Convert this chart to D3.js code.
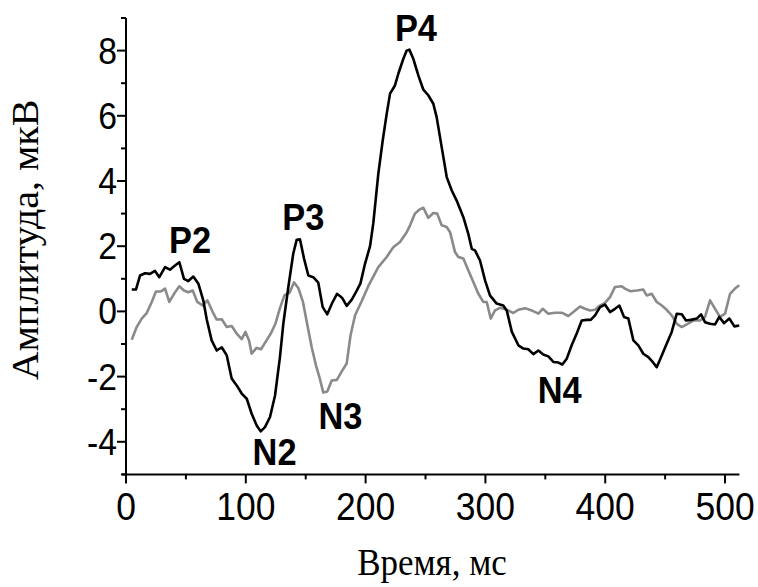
<!DOCTYPE html>
<html><head><meta charset="utf-8">
<script src="https://cdn.jsdelivr.net/npm/d3@7"></script>
<style>body{margin:0;background:#fff}svg{display:block}</style>
</head><body>
<div id="chart"></div>
<script>
const blackT = [4.8,8.3,11.7,15.9,20,24.2,27.8,32.6,36.7,40.9,44.5,48.4,52,56.2,60.4,64.5,67.4,71.5,75.7,79.9,84.1,88.2,92.4,96.6,100.8,104.9,109.1,112.4,116,120.2,124.4,128.5,131.3,135.5,139.6,142.5,145.2,148.6,152.2,156.3,160.5,164.2,168,172,176.1,180.3,184.2,188.6,192.6,195.7,199.5,203.7,206.4,210.6,214.3,217.6,220.4,224.5,227.3,231.5,234.3,236.5,239.8,244,248.2,252.3,256.5,259.3,263.5,267.7,271.9,276,281.6,285.7,288.6,291.3,295.5,299.7,303.8,309.4,314.9,317.8,322,327.5,331.7,335.8,340,344.2,348.3,352.5,356.7,360.9,364.2,367.9,372,376.2,380.4,384.6,387.9,391.5,395.7,399.8,404,408.2,411.8,415.7,419.3,423.5,427.6,431.8,436,439.6,443,447.2,451.3,455.5,459.7,463.9,467.4,471.4,476.4,480,483.3,487.5,491.7,495.2,499.2,503.6,507.8,511.9];
const blackV = [0.67,0.67,1.10,1.17,1.15,1.24,1.05,1.36,1.28,1.41,1.51,1.00,0.93,1.07,0.85,0.34,-0.25,-0.89,-1.2,-1.10,-1.35,-2.06,-2.27,-2.52,-2.68,-3.14,-3.50,-3.68,-3.55,-3.24,-2.58,-1.40,-0.38,0.75,1.77,2.20,2.21,1.62,1.10,1.05,0.88,0.13,-0.09,0.25,0.54,0.42,0.17,0.37,0.64,0.86,1.46,2.0,2.7,4.22,5.25,6.06,6.68,6.93,7.29,7.75,8.00,8.03,7.75,7.24,6.80,6.63,6.37,5.96,5.04,4.12,3.71,3.40,2.89,2.38,1.92,1.87,1.56,0.95,0.49,0.24,0.18,0.03,-0.62,-1.04,-1.14,-1.16,-1.31,-1.20,-1.32,-1.38,-1.55,-1.57,-1.63,-1.45,-1.04,-0.68,-0.28,-0.26,-0.26,-0.12,0.13,0.21,-0.02,0.08,0.18,-0.17,-0.22,-0.89,-1.04,-1.30,-1.40,-1.55,-1.71,-1.35,-0.99,-0.63,-0.07,-0.09,-0.28,-0.26,-0.22,-0.09,-0.33,-0.38,-0.40,-0.17,-0.36,-0.22,-0.46,-0.43];
const grayT = [4.8,8.9,13.1,17.3,21.5,25,29,32.6,36.1,40.1,44.5,48.4,52,55.7,59.5,64,67.9,72.4,75.7,79.9,84.1,88.2,92.4,96.6,99.7,102.7,104.9,108.9,112.7,117.3,121,124.8,128.5,132.3,136.5,140.2,143.8,147.7,151.7,155,158.6,161.6,164.7,168,171.7,176,180.1,184.2,187.4,191.2,196.7,202.3,210.6,217.6,223.1,228.7,234.3,237.1,241.2,244.8,248.2,252.3,256.5,259.8,263.5,267.7,270.5,274.6,277.4,281.6,285.7,289.9,294.1,298.2,301.1,304.4,308,312.2,317.8,323.3,327.5,333.1,338.6,344.2,347.8,352.5,358.1,363.7,369.2,373.4,379,383.1,387.3,391.5,395.7,399.8,404,408.2,413.8,416.5,420.7,426.3,431.8,434.6,438.8,443,447.2,451.3,455.5,459.7,463.9,468,473.5,479.1,483.3,487.5,491.7,495.8,500,504.2,508.3,511.9];
const grayV = [-0.87,-0.48,-0.22,-0.05,0.29,0.61,0.61,0.70,0.29,0.54,0.77,0.64,0.59,0.64,0.29,0.18,0.34,-0.02,-0.25,-0.24,-0.48,-0.45,-0.68,-0.85,-0.63,-0.89,-1.30,-1.12,-1.16,-0.89,-0.67,-0.37,0.10,0.50,0.57,0.89,0.72,0.29,-0.48,-1.10,-1.66,-2.04,-2.49,-2.46,-2.12,-2.10,-1.84,-1.60,-0.74,-0.12,0.31,0.78,1.36,1.67,1.97,2.13,2.43,2.64,3.00,3.12,3.18,2.87,3.02,3.00,2.64,2.59,2.43,1.82,1.67,1.62,1.26,0.90,0.54,0.29,0.29,-0.22,0.03,0.11,0.05,-0.05,0.05,0.10,0.03,-0.07,0.08,-0.07,-0.04,-0.04,-0.14,-0.02,0.15,0.08,0.03,0.05,0.18,0.26,0.44,0.75,0.77,0.70,0.62,0.64,0.67,0.49,0.54,0.29,0.18,0.05,-0.12,-0.38,-0.48,-0.40,-0.28,-0.28,-0.17,0.34,0.08,-0.17,-0.07,0.54,0.70,0.80];
const xTicks = [0,100,200,300,400,500];
const yTicks = [-4,-2,0,2,4,6,8];
const peakNames = ["P2","P3","P4","N2","N3","N4"];
const peakT = [53.5,148,242,124,179,362];
const peakV = [1.8,2.5,8.3,-4.7,-3.6,-2.8];
const xTitle = "Время, мс";
const yTitle = "Амплитуда, мкВ";

const W = 758, H = 587;
const svg = d3.select("#chart").append("svg").attr("width", W).attr("height", H);
const x = d3.scaleLinear().domain([0, 512]).range([126, 739.4]);
const y = d3.scaleLinear().domain([-5, 9]).range([474.4, 18]);

const tickFont = "'Liberation Sans', Arial, sans-serif";

// X axis
const gx = svg.append("g").attr("transform", `translate(0,${y(-5)})`);
gx.append("line").attr("x1", x(0) - 4).attr("x2", x(512)).attr("stroke", "#000").attr("stroke-width", 2);
gx.selectAll("line.minor").data(d3.range(0, 513, 50)).join("line")
  .attr("x1", d => x(d)).attr("x2", d => x(d)).attr("y1", 0)
  .attr("y2", d => d % 100 === 0 ? 9 : 5).attr("stroke", "#000").attr("stroke-width", 2);
gx.selectAll("text").data(xTicks).join("text")
  .attr("transform", d => `translate(${x(d)},46) scale(0.91,1)`)
  .attr("text-anchor", "middle").attr("font-family", tickFont).attr("font-size", 39)
  .text(d => d);

// Y axis
const gy = svg.append("g").attr("transform", `translate(${x(0)},0)`);
gy.append("line").attr("y1", y(9)).attr("y2", y(-5) + 4).attr("stroke", "#000").attr("stroke-width", 2);
gy.selectAll("line.t").data(d3.range(-5, 10, 1)).join("line")
  .attr("y1", d => y(d)).attr("y2", d => y(d)).attr("x1", 0)
  .attr("x2", d => (d % 2 === 0) ? -9 : -5).attr("stroke", "#000").attr("stroke-width", 2);
gy.selectAll("text").data(yTicks).join("text")
  .attr("transform", d => `translate(-9,${y(d) + 13}) scale(0.91,1)`)
  .attr("text-anchor", "end").attr("font-family", tickFont).attr("font-size", 37)
  .text(d => d < 0 ? "-" + Math.abs(d) : d);

// lines
const line = d3.line().x(d => x(d[0])).y(d => y(d[1]));
svg.append("path").datum(grayT.map((t, i) => [t, grayV[i]]))
  .attr("d", line).attr("fill", "none").attr("stroke", "#8a8a8a").attr("stroke-width", 2.6).attr("stroke-linejoin", "round");
svg.append("path").datum(blackT.map((t, i) => [t, blackV[i]]))
  .attr("d", line).attr("fill", "none").attr("stroke", "#000").attr("stroke-width", 2.6).attr("stroke-linejoin", "round");

// peak labels
svg.selectAll("text.peak").data(peakNames).join("text").attr("class", "peak")
  .attr("transform", (d, i) => `translate(${x(peakT[i])},${y(peakV[i])}) scale(0.93,1)`)
  .attr("text-anchor", "middle").attr("font-family", tickFont).attr("font-weight", "bold")
  .attr("font-size", 37).text(d => d);

// titles
svg.append("text").attr("transform", `translate(432,575) scale(1,1.08)`)
  .attr("text-anchor", "middle").attr("font-family", "'Liberation Serif', 'Times New Roman', serif")
  .attr("font-size", 35).text(xTitle);
svg.append("text").attr("transform", `translate(38,240) rotate(-90) scale(1.08,1)`)
  .attr("text-anchor", "middle").attr("font-family", "'Liberation Serif', 'Times New Roman', serif")
  .attr("font-size", 37).text(yTitle);
</script>
</body></html>
